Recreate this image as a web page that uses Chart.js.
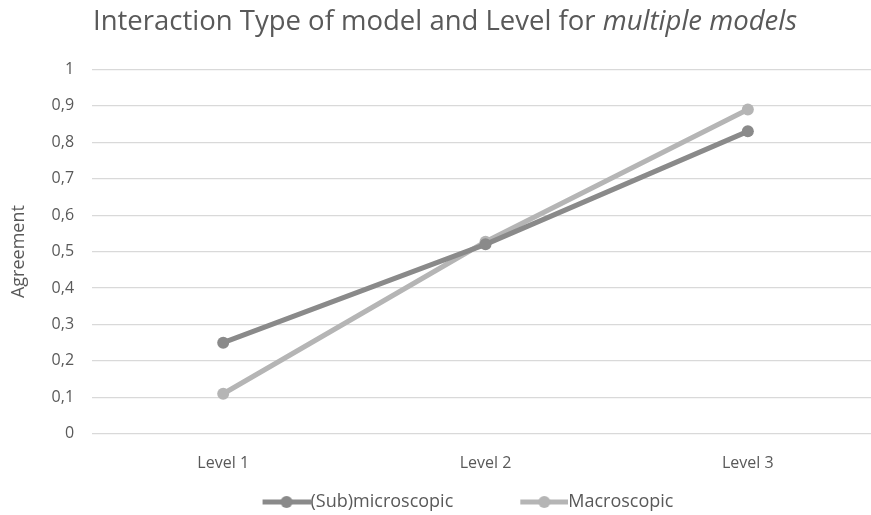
<!DOCTYPE html>
<html lang="en">
<head>
    <meta charset="UTF-8">
    <title>Interaction Type</title>
    <script src="https://cdn.jsdelivr.net/npm/chart.js"></script>
    <style>
        body { margin: 0; background: #fff; overflow: hidden; }
        #box { width: 885px; height: 521px; }
    </style>
</head>
<body>
    <div id="box"><canvas id="grafico"></canvas></div>
<script>
    // dados
    const niveis = ['Level 1', 'Level 2', 'Level 3'];
    const subMicro = [0.25, 0.52, 0.83];
    const macro = [0.11, 0.527, 0.89];
    const ticksY = [0, 0.1, 0.2, 0.3, 0.4, 0.5, 0.6, 0.7, 0.8, 0.9, 1];

    const corSub = '#8a8a8a';
    const corMacro = '#b5b5b5';
    const corTexto = '#595959';
    const fonte = '"Open Sans", "Liberation Sans", sans-serif';

    // ícone da legenda: linha com bolinha, encostada no texto
    // (a caixa tem 86px, o desenho fica na parte da direita)
    function iconeLegenda(cor) {
        const c = document.createElement('canvas');
        c.width = 104; c.height = 14;
        const ctx = c.getContext('2d');
        ctx.strokeStyle = cor;
        ctx.lineWidth = 5;
        ctx.beginPath();
        ctx.moveTo(56, 7); ctx.lineTo(104, 7);
        ctx.stroke();
        ctx.fillStyle = cor;
        ctx.beginPath();
        ctx.arc(80, 7, 6, 0, Math.PI * 2);
        ctx.fill();
        return c;
    }

    // título com "multiple models" em itálico
    const tituloItalico = {
        id: 'tituloItalico',
        afterDraw: function (chart) {
            const ctx = chart.ctx;
            const parte1 = 'Interaction Type of model and Level for ';
            const parte2 = 'multiple models';
            ctx.save();
            ctx.fillStyle = corTexto;
            ctx.textBaseline = 'middle';
            ctx.font = '27.5px ' + fonte;
            const w1 = ctx.measureText(parte1).width;
            ctx.font = 'italic 27.5px ' + fonte;
            const w2 = ctx.measureText(parte2).width;
            const x0 = 445 - (w1 + w2) / 2;
            const y = 22;
            ctx.font = '27.5px ' + fonte;
            ctx.fillText(parte1, x0, y);
            ctx.font = 'italic 27.5px ' + fonte;
            ctx.fillText(parte2, x0 + w1, y);
            ctx.restore();
        }
    };

    Chart.defaults.font.family = fonte;
    Chart.defaults.color = corTexto;

    const dados = {
        labels: niveis,
        datasets: [{
            label: '(Sub)microscopic',
            data: subMicro,
            borderColor: corSub,
            backgroundColor: corSub,
            borderWidth: 5,
            pointRadius: 6,
            pointBackgroundColor: corSub,
            pointBorderWidth: 0
        }, {
            label: 'Macroscopic',
            data: macro,
            borderColor: corMacro,
            backgroundColor: corMacro,
            borderWidth: 5,
            pointRadius: 6,
            pointBackgroundColor: corMacro,
            pointBorderWidth: 0
        }]
    };

    const icones = [iconeLegenda(corSub), iconeLegenda(corMacro)];

    const config = {
        type: 'line',
        data: dados,
        plugins: [tituloItalico],
        options: {
            responsive: true,
            maintainAspectRatio: false,
            animation: false,
            layout: { padding: { left: 4, right: 0, top: 6, bottom: 0 } },
            plugins: {
                title: {
                    display: true,
                    text: ' ',
                    color: 'rgba(0,0,0,0)',
                    font: { size: 27, weight: 'normal' },
                    padding: { top: 0, bottom: 31 }
                },
                legend: {
                    position: 'bottom',
                    labels: {
                        usePointStyle: true,
                        pointStyleWidth: 86,
                        font: { size: 18 },
                        padding: 20,
                        generateLabels: function (chart) {
                            return chart.data.datasets.map(function (ds, i) {
                                return {
                                    text: ds.label,
                                    fontColor: corTexto,
                                    pointStyle: icones[i],
                                    datasetIndex: i,
                                    hidden: false,
                                    lineWidth: 0
                                };
                            });
                        }
                    }
                },
                tooltip: { enabled: false }
            },
            scales: {
                x: {
                    offset: true,
                    grid: { display: false },
                    border: { display: false },
                    ticks: { font: { size: 16 }, padding: 12 },
                    afterFit: function (axis) { axis.height -= 12; }
                },
                y: {
                    min: 0,
                    max: 1,
                    afterBuildTicks: function (axis) {
                        axis.ticks = ticksY.map(v => ({ value: v }));
                    },
                    grid: { color: '#d9d9d9', lineWidth: 1.3, drawTicks: false },
                    border: { display: false },
                    ticks: {
                        font: { size: 16 },
                        padding: 18,
                        callback: v => String(v).replace('.', ',')
                    },
                    title: {
                        display: true,
                        text: 'Agreement',
                        font: { size: 18 },
                        padding: { bottom: 4 }
                    }
                }
            }
        }
    };

    const grafico = new Chart(document.querySelector('#grafico'), config);
</script>
</body>
</html>
